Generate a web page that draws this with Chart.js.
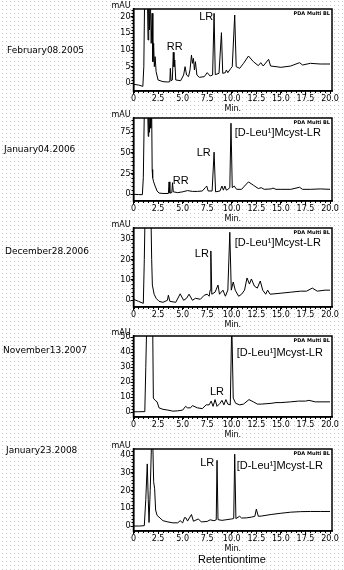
<!DOCTYPE html>
<html>
<head>
<meta charset="utf-8">
<script src="https://cdn.jsdelivr.net/npm/chart.js@4"></script>
<style>
  html, body { margin: 0; padding: 0; background: #fff; }
  body { width: 344px; height: 570px; position: relative; overflow: hidden; }
  #dots { position: absolute; left: 0; top: 0; }
  canvas.panel { position: absolute; left: 100px; }
  .date { position: absolute; font: 9px "DejaVu Sans"; color: #000; white-space: nowrap; transform: translateY(-50%); }
  #xname { position: absolute; left: 198px; top: 559px; transform: translateY(-50%); font: 11px "Liberation Sans"; color: #000; }
</style>
</head>
<body>
<canvas id="dots" width="344" height="570"></canvas>
<div id="xname">Retentiontime</div>
<script>
// sample dates, one per chromatogram
const sampleDates = ['February08.2005', 'January04.2006', 'December28.2006', 'November13.2007', 'January23.2008']

// retention time (min) and absorbance (mAU)
const times1 = [0, 0.5, 0.95, 1.05, 1.15, 1.4, 1.48, 1.55, 1.62, 1.7, 1.8, 1.9, 1.97, 2.05, 2.12, 2.2, 2.3, 2.5, 3.0, 3.5, 3.7, 3.75, 3.82, 3.95, 4.05, 4.12, 4.2, 4.3, 4.8, 5.1, 5.25, 5.4, 5.6, 5.75, 5.9, 6.0, 6.1, 6.2, 6.3, 6.45, 6.7, 7.2, 7.5, 7.8, 8.05, 8.2, 8.32, 8.7, 8.95, 9.08, 9.35, 9.45, 9.6, 9.9, 10.05, 10.3, 10.45, 10.8, 11.2, 11.7, 12.2, 12.7, 12.95, 13.2, 13.75, 13.95, 14.5, 15.0, 16.0, 16.9, 17.2, 18.0, 19.0, 20.0]
const mau1 = [-0.3, -0.5, -0.9, 5, 30, 30, 13, 24, 16, 28, 12, 21, 6.5, 12, 5, 8, 3.5, 1, 0.5, 0.4, 0.5, 4.5, 0.8, 1, 9.3, 5, 7, 1, 0.8, 2.5, 5, 2.5, 2, 4, 8.5, 6, 7.5, 4, 6.5, 2.5, 1.8, 2, 3.2, 2.2, 2.5, 21, 2.6, 3, 15.2, 3, 3.2, 4, 3.2, 4.5, 5, 20.5, 5, 4.5, 6, 8.2, 6.5, 5.3, 6.2, 5.2, 7.2, 5.2, 5, 4.8, 5.2, 6.2, 5.5, 6, 5.8, 5.8]

const times2 = [0, 0.5, 0.9, 1.0, 1.1, 1.45, 1.5, 1.55, 1.62, 1.7, 1.75, 1.85, 1.9, 1.95, 2.05, 2.2, 2.4, 2.6, 3.0, 3.55, 3.62, 3.7, 3.9, 3.97, 4.05, 4.5, 5.0, 5.5, 6.0, 6.5, 7.0, 7.3, 7.45, 7.6, 8.0, 8.2, 8.35, 8.8, 9.0, 9.15, 9.3, 9.45, 9.6, 9.8, 9.92, 10.05, 10.25, 10.5, 11.0, 11.3, 11.7, 12.2, 12.7, 13.0, 13.3, 14.0, 14.2, 14.5, 15.0, 16.0, 16.9, 17.2, 18.0, 19.0, 20.0]
const mau2 = [0, -0.3, -0.5, 20, 100, 100, 70, 100, 75, 100, 80, 100, 30, 20, 15, 10, 4, 1.5, 1, 1, 15, 1.5, 2, 14, 3, 2, 3, 4.5, 3.5, 3.5, 4, 8, 10, 4, 4, 51, 3, 4, 10, 5, 10, 5, 6, 8, 86, 8, 10, 6, 6, 10, 15, 11, 7, 8, 6, 6.5, 7.5, 6, 6, 6, 8.5, 6, 6, 6.5, 6]

const times3 = [0, 0.5, 1.0, 1.1, 1.2, 1.75, 1.85, 1.92, 2.1, 2.3, 2.6, 3.0, 3.45, 3.55, 3.7, 4.3, 4.75, 5.1, 5.4, 5.65, 6.0, 6.3, 6.8, 7.2, 7.5, 7.7, 7.8, 7.87, 7.97, 8.3, 8.6, 8.75, 9.1, 9.35, 9.6, 9.8, 9.95, 10.15, 10.35, 10.7, 11.0, 11.3, 11.55, 11.8, 12.0, 12.3, 12.6, 12.9, 13.15, 13.45, 13.65, 13.9, 15.0, 16.0, 17.0, 17.6, 18.2, 18.7, 19.5, 20.0]
const mau3 = [0.5, -0.5, -1.5, 20, 50, 50, 20, 7.5, 3, 1, -0.5, -1, 0, 2.5, -0.5, -1, 3.2, 0, 1, 3, 0, 1, 0.5, 2.5, 3, 2, 5, 24.3, 3, 4, 7.5, 3, 5, 2, 5, 33.5, 5, 9, 5, 2, 3, 5, 11, 8, 10.5, 7, 6, 9.5, 5, 3, 5, 3, 3.5, 4, 4.5, 4.5, 6, 4.5, 5, 5]

const times4 = [0, 0.5, 1.15, 1.25, 1.35, 1.95, 2.02, 2.2, 2.4, 2.6, 3.0, 3.5, 4.0, 4.5, 5.0, 5.3, 5.5, 5.8, 6.0, 6.5, 7.0, 7.4, 7.7, 7.9, 8.1, 8.3, 8.5, 8.8, 9.0, 9.2, 9.4, 9.6, 9.85, 10.0, 10.15, 10.4, 10.8, 11.2, 11.75, 12.2, 12.6, 13.0, 14.0, 14.5, 15.0, 16.0, 16.8, 17.5, 17.85, 18.5, 20.0]
const mau4 = [0.4, 0.4, 0.5, 30, 60, 60, 9.5, 8, 7, 3, 2, 1.5, 0.8, 1, 1.5, 4, 3, 3, 4.5, 3, 2.5, 5, 5, 7.5, 4, 8.5, 4, 6, 8, 5, 8.5, 5.5, 5, 60, 9.5, 6, 5, 5.5, 8.5, 7, 5.5, 5.5, 6, 6.5, 6.5, 7, 7.5, 7.5, 8, 7, 7]

const times5 = [0, 0.6, 1.1, 1.25, 1.4, 1.5, 1.58, 1.7, 1.85, 1.95, 2.05, 2.15, 2.25, 2.4, 2.7, 3.0, 3.5, 4.0, 4.5, 4.75, 5.0, 5.2, 5.35, 5.5, 5.9, 6.1, 6.6, 6.9, 7.5, 7.8, 8.2, 8.42, 8.5, 8.6, 9.0, 9.5, 10.0, 10.2, 10.3, 10.42, 10.8, 11.0, 11.5, 12.0, 12.35, 12.5, 12.7, 13.0, 14.0, 15.0, 16.0, 17.0, 18.0, 19.0, 20.0]
const mau5 = [0, 0, 0.2, 15, 35, 15, 2, 20, 50, 50, 25, 21, 9, 6, 4.5, 3, 2.3, 1.8, 1.8, 3, 1.8, 4.8, 4.5, 2.8, 6.5, 2.7, 4, 2.3, 2.6, 3.5, 3, 3.5, 37, 3.6, 3.2, 3.6, 4, 4.2, 40.5, 4.2, 5.5, 4.5, 4.6, 5, 5.5, 9.5, 5.5, 5.6, 6.5, 7.2, 7.8, 8.1, 8.2, 8.2, 8.2]

// axis tick labels
const xTicks = [0, 2.5, 5, 7.5, 10, 12.5, 15, 17.5, 20]
const yTicks1 = [0, 5, 10, 15, 20]
const yTicks2 = [0, 25, 50, 75]
const yTicks3 = [0, 10, 20, 30]
const yTicks4 = [0, 10, 20, 30, 40, 50]
const yTicks5 = [0, 10, 20, 30, 40]

const toxin = '[D-Leu\u00b9]Mcyst-LR'

const panels = [
  { times: times1, mau: mau1, ticks: yTicks1, minor: 1, top: 9, bottom: 91, min: -2.3, max: 22.3, dateY: 50, dateX: 7,
    notes: [{ text: 'LR', x: 7.4, y: 19.9 }, { text: 'RR', x: 4.2, y: 10.9 }] },
  { times: times2, mau: mau2, ticks: yTicks2, minor: 5, top: 118, bottom: 201, min: -8.1, max: 92.3, dateY: 149, dateX: 4,
    notes: [{ text: toxin, x: 10.3, y: 74, left: true }, { text: 'LR', x: 7.15, y: 50 }, { text: 'RR', x: 4.8, y: 16 }] },
  { times: times3, mau: mau3, ticks: yTicks3, minor: 2, top: 228, bottom: 307, min: -3.3, max: 35.6, dateY: 251, dateX: 5,
    notes: [{ text: toxin, x: 10.3, y: 28.2, left: true }, { text: 'LR', x: 6.95, y: 22.8 }] },
  { times: times4, mau: mau4, ticks: yTicks4, minor: 2, top: 336, bottom: 417, min: -3.1, max: 50.9, dateY: 350, dateX: 3,
    notes: [{ text: toxin, x: 10.5, y: 39.5, left: true }, { text: 'LR', x: 8.5, y: 13.5 }] },
  { times: times5, mau: mau5, ticks: yTicks5, minor: 2, top: 449, bottom: 531, min: -2.8, max: 43.4, dateY: 450, dateX: 6,
    notes: [{ text: 'LR', x: 7.5, y: 35.5 }, { text: toxin, x: 10.5, y: 33.8, left: true }] }
]

// dotted backdrop
const bg = document.getElementById('dots').getContext('2d')
bg.fillStyle = '#c8c8c8'
for (let x = 2; x < 344; x += 4) {
  for (let y = 1; y < 570; y += 4) bg.fillRect(x, y, 1, 1)
}

const tickFont = { family: 'DejaVu Sans', size: 8 }

const frame = {
  id: 'frame',
  beforeDraw (chart) {
    const a = chart.chartArea
    const ctx = chart.ctx
    ctx.save()
    ctx.fillStyle = '#fff'
    ctx.fillRect(a.left, a.top, a.right - a.left, a.bottom - a.top)
    ctx.restore()
  },
  afterDraw (chart, args, opts) {
    const a = chart.chartArea
    const ctx = chart.ctx
    const xs = chart.scales.x
    const ys = chart.scales.y
    ctx.save()
    ctx.strokeStyle = '#000'
    ctx.lineWidth = 1.5
    ctx.strokeRect(a.left, a.top, a.right - a.left, a.bottom - a.top)
    // minor ticks
    ctx.lineWidth = 1
    ctx.beginPath()
    for (let v = 0; v <= ys.max; v += opts.minor) {
      const y = Math.round(ys.getPixelForValue(v)) + 0.5
      ctx.moveTo(a.left - 2, y)
      ctx.lineTo(a.left, y)
    }
    for (let v = 0; v <= 20; v += 0.5) {
      const x = Math.round(xs.getPixelForValue(v)) + 0.5
      ctx.moveTo(x, a.bottom)
      ctx.lineTo(x, a.bottom + 2)
    }
    ctx.stroke()
    ctx.fillStyle = '#000'
    ctx.font = '8px "DejaVu Sans"'
    ctx.textAlign = 'right'
    ctx.textBaseline = 'bottom'
    ctx.fillText('mAU', a.left - 3, a.top + 1)
    ctx.textAlign = 'center'
    ctx.textBaseline = 'middle'
    ctx.fillText('Min.', (a.left + a.right) / 2, a.bottom + 17.5)
    ctx.font = 'bold 5px "DejaVu Sans"'
    ctx.textAlign = 'right'
    ctx.textBaseline = 'top'
    ctx.fillText('PDA Multi BL', a.right - 2, a.top + 2)
    ctx.font = '11px "Liberation Sans"'
    ctx.textBaseline = 'middle'
    opts.notes.forEach(n => {
      ctx.textAlign = n.left ? 'left' : 'center'
      ctx.fillText(n.text, xs.getPixelForValue(n.x), ys.getPixelForValue(n.y))
    })
    ctx.restore()
  }
}

panels.forEach((p, i) => {
  const date = document.createElement('div')
  date.className = 'date'
  date.style.left = p.dateX + 'px'
  date.style.top = p.dateY + 'px'
  date.innerText = sampleDates[i]
  document.body.appendChild(date)

  const canvas = document.createElement('canvas')
  canvas.className = 'panel'
  canvas.width = 244
  canvas.height = p.bottom - p.top + 12 + 26
  canvas.style.top = (p.top - 12) + 'px'
  document.body.appendChild(canvas)

  new Chart(canvas.getContext('2d'), {
    type: 'line',
    data: {
      datasets: [{
        data: p.times.map((t, k) => ({ x: t, y: p.mau[k] })),
        borderColor: '#000',
        borderWidth: 1,
        pointRadius: 0,
        tension: 0,
        fill: false
      }]
    },
    options: {
      responsive: false,
      animation: false,
      devicePixelRatio: 1,
      layout: { padding: { left: 0, right: 12, top: 12, bottom: 0 } },
      plugins: {
        legend: { display: false },
        tooltip: { enabled: false },
        frame: { notes: p.notes, minor: p.minor }
      },
      scales: {
        x: {
          type: 'linear',
          min: 0,
          max: 20.2,
          afterBuildTicks: s => { s.ticks = xTicks.map(v => ({ value: v })) },
          afterFit: s => { s.height = 26 },
          ticks: {
            font: tickFont,
            color: '#000',
            padding: 0,
            maxRotation: 0,
            autoSkip: false,
            callback: v => v === 0 ? '0' : v.toFixed(1)
          },
          grid: { drawOnChartArea: false, tickLength: 3, color: '#000' },
          border: { color: '#000', width: 1.5 }
        },
        y: {
          min: p.min,
          max: p.max,
          afterBuildTicks: s => { s.ticks = p.ticks.map(v => ({ value: v })) },
          afterFit: s => { s.width = 33.5 },
          ticks: { font: tickFont, color: '#000', padding: 0 },
          grid: { drawOnChartArea: false, tickLength: 3, color: '#000' },
          border: { color: '#000', width: 1.5 }
        }
      }
    },
    plugins: [frame]
  })
})
</script>
</body>
</html>
